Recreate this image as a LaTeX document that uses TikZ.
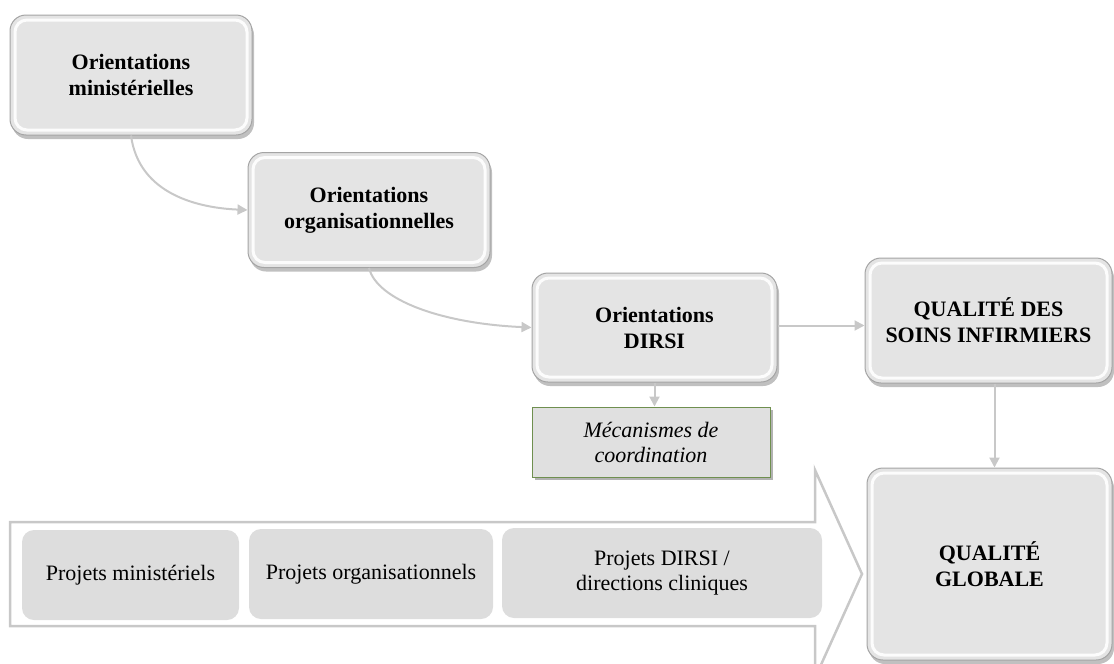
\documentclass[tikz,border=0pt]{standalone}
\usepackage{fontspec}
\setmainfont{Liberation Serif}
\usetikzlibrary{shadows,arrows.meta}

\definecolor{boxfill}{HTML}{E4E4E4}
\definecolor{boxline}{HTML}{A4A4A4}
\definecolor{linkgray}{HTML}{C8C8C8}
\definecolor{projfill}{HTML}{DDDDDD}
\definecolor{mecaline}{HTML}{6F8F4F}
\definecolor{mecafill}{HTML}{E0E0E0}

\tikzset{
  gloss/.style={draw=boxline, line width=1pt, fill=boxfill, rounded corners=16pt,
    align=center, inner sep=0pt,
    font=\fontsize{22}{26}\selectfont\bfseries,
    drop shadow={shadow xshift=2pt, shadow yshift=-4pt, opacity=0.45, fill=black!55},
    path picture={\draw[white, line width=3pt, rounded corners=12pt, opacity=.9]
      ([shift={(5pt,-5pt)}]path picture bounding box.north west) rectangle
      ([shift={(-5pt,5pt)}]path picture bounding box.south east);}},
  meca/.style={draw=mecaline, line width=1pt, fill=mecafill, align=center, inner sep=0pt,
    font=\fontsize{22}{25}\selectfont\itshape,
    drop shadow={shadow xshift=3pt, shadow yshift=-3pt, opacity=0.5, fill=black!60}},
  proj/.style={fill=projfill, rounded corners=12pt, align=center, inner sep=0pt,
    font=\fontsize{22}{25}\selectfont},
  link/.style={draw=linkgray, line width=2pt, -{Triangle[length=10pt,width=10pt]}},
  bigarrow/.style={draw=linkgray, line width=2.5pt, line join=miter}
}

\begin{document}
\begin{tikzpicture}[x=1pt, y=1pt]
  \useasboundingbox (0,0) rectangle (1114,-664);

  % broad arrow carrying the project bands
  \draw[bigarrow] (10,-522) -- (815,-522) -- (815,-470) -- (862,-574)
    -- (815,-678) -- (815,-626) -- (10,-626) -- cycle;

  \node[proj, minimum width=217pt, minimum height=90pt] (pm) at (130.5,-575) {Projets ministériels};
  \node[proj, minimum width=244pt, minimum height=90pt] (po) at (371,-574) {Projets organisationnels};
  \node[proj, minimum width=320pt, minimum height=90pt] (pd) at (662,-573) {Projets DIRSI /\\directions cliniques};

  % orientation cascade
  \node[gloss, minimum width=242pt, minimum height=120pt] (om) at (131,-75) {Orientations\\ministérielles};
  \node[gloss, minimum width=242pt, minimum height=115pt] (oo) at (369,-210) {Orientations\\organisationnelles};
  \node[gloss, minimum width=245pt, minimum height=109pt] (od) at (654.5,-327.5) {Orientations\\DIRSI};
  \node[gloss, minimum width=247pt, minimum height=125pt] (qs) at (988.5,-320.5) {QUALITÉ DES\\SOINS INFIRMIERS};
  \node[gloss, minimum width=245pt, minimum height=192pt] (qg) at (989.5,-564) {QUALITÉ\\GLOBALE};

  \node[meca, minimum width=238pt, minimum height=70pt] (mc) at (651,-442) {Mécanismes de\\coordination};

  % connectors
  \draw[link] (om.south) .. controls +(8,-60) and +(-47,2) .. (oo.west);
  \draw[link] (oo.south) .. controls +(8,-32) and +(-90,4) .. (od.west);
  \draw[link] ([yshift=2pt]od.east) -- ([yshift=2pt]od.east -| qs.west);
  \draw[link] (od.south) -- (od.south |- mc.north);
  \draw[link] ([xshift=6pt]qs.south) -- ([xshift=6pt]qs.south |- qg.north);
\end{tikzpicture}
\end{document}
